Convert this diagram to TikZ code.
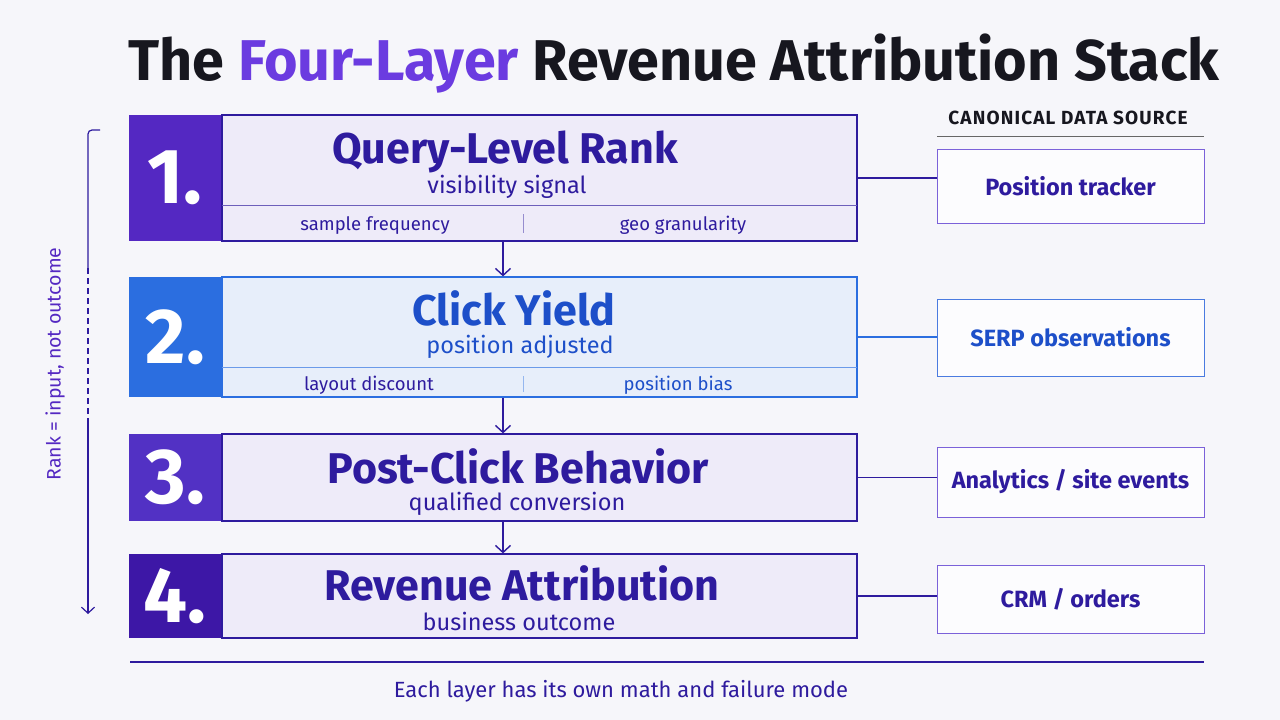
\documentclass[tikz,border=0pt]{standalone}
\usepackage{fontspec}
\setmainfont{Fira Sans}
\newfontfamily\spacedfont[LetterSpace=6]{Fira Sans}
\usetikzlibrary{arrows.meta,positioning}

\definecolor{bgcol}{HTML}{F6F6FA}
\definecolor{ink}{HTML}{2E1B9E}
\definecolor{titledark}{HTML}{17171F}
\definecolor{titlepurple}{HTML}{6B3BE0}
\definecolor{numone}{HTML}{5428C2}
\definecolor{numtwo}{HTML}{2B6EE0}
\definecolor{numthree}{HTML}{5231C4}
\definecolor{numfour}{HTML}{3D17A6}
\definecolor{layerfill}{HTML}{EEEBF9}
\definecolor{bluefill}{HTML}{E7EEFA}
\definecolor{blueink}{HTML}{1D4FC9}
\definecolor{srcedge}{HTML}{7B61D9}
\definecolor{srcblue}{HTML}{4A7BE0}

\tikzset{
  layer/.style={draw=ink, line width=1.2pt, fill=layerfill, minimum width=635, inner sep=0pt},
  numblk/.style={minimum width=92, inner sep=0pt, text=white,
    font=\fontsize{78}{80}\selectfont\bfseries},
  ltitle/.style={anchor=base, text=ink, font=\fontsize{43}{45}\selectfont\bfseries},
  lsub/.style={anchor=base, text=ink, font=\fontsize{23.5}{25}\selectfont},
  lnote/.style={anchor=base, text=ink, font=\fontsize{18.5}{20}\selectfont},
  srcbox/.style={draw=srcedge, line width=1pt, fill=white!70!bgcol, minimum width=267,
    text=ink, font=\fontsize{23.5}{25}\selectfont\bfseries},
  flow/.style={draw=ink, line width=1.4pt, -{Straight Barb[length=7pt,width=15pt]}},
  link/.style={draw=ink, line width=1.2pt}
}

\begin{document}
\begin{tikzpicture}[x=1pt,y=-1pt]
  \fill[bgcol] (0,0) rectangle (1280,720);
  \useasboundingbox (0,0) rectangle (1280,720);

  % title
  \node[anchor=base, font=\fontsize{57.5}{60}\selectfont\bfseries, text=titledark] (title) at (674,80)
    {The \textcolor{titlepurple}{Four-Layer} Revenue Attribution Stack};

  % the four layers
  \node[layer, minimum height=126] (L1) at (539.5,178) {};
  \node[layer, minimum height=120, fill=bluefill, draw=numtwo] (L2) at (539.5,337) {};
  \node[layer, minimum height=87] (L3) at (539.5,477.5) {};
  \node[layer, minimum height=84] (L4) at (539.5,596) {};

  \node[numblk, fill=numone, minimum height=126, anchor=east] (N1) at (L1.west) {1.};
  \node[numblk, fill=numtwo, minimum height=120, anchor=east] (N2) at (L2.west) {2.};
  \node[numblk, fill=numthree, minimum height=87, anchor=east] (N3) at (L3.west) {3.};
  \node[numblk, fill=numfour, minimum height=84, anchor=east] (N4) at (L4.west) {4.};

  \node[ltitle] (T1) at (505,163) {Query-Level Rank};
  \node[lsub] (S1) at (507,193) {visibility signal};
  \node[ltitle, text=blueink] (T2) at (514,325) {Click Yield};
  \node[lsub, text=blueink] (S2) at (520,353) {position adjusted};
  \node[ltitle] (T3) at (518,483) {Post-Click Behavior};
  \node[lsub] (S3) at (517,510) {qualified conversion};
  \node[ltitle] (T4) at (522,600) {Revenue Attribution};
  \node[lsub] (S4) at (519,630) {business outcome};

  % detail rows
  \draw[ink!70, line width=0.8pt] (222,205) -- (857,205);
  \draw[ink!50, line width=0.6pt] (523,214) -- (523,233);
  \node[lnote] (D1a) at (375,230) {sample frequency};
  \node[lnote] (D1b) at (683,230) {geo granularity};
  \draw[numtwo!70, line width=0.8pt] (222,367) -- (857,367);
  \draw[numtwo!50, line width=0.6pt] (523,376) -- (523,392);
  \node[lnote] (D2a) at (369,390) {layout discount};
  \node[lnote, text=blueink] (D2b) at (678,390) {position bias};

  % flow arrows
  \coordinate (axis) at (503,0);
  \draw[flow] (L1.south -| axis) -- (L2.north -| axis);
  \draw[flow] (L2.south -| axis) -- (L3.north -| axis);
  \draw[flow] (L3.south -| axis) -- (L4.north -| axis);

  % data sources
  \node[anchor=base, text=titledark, font=\fontsize{19}{21}\selectfont\spacedfont\bfseries] (head) at (1068,124)
    {CANONICAL DATA SOURCE};
  \draw[gray!80!black, line width=0.8pt] (937,136) -- (1204,136);
  \node[srcbox, minimum height=74] (R1) at (1070.5,186) {Position tracker};
  \node[srcbox, minimum height=77, draw=srcblue, text=blueink] (R2) at (1070.5,337.5) {SERP observations};
  \node[srcbox, minimum height=70] (R3) at (1070.5,482) {Analytics / site events};
  \node[srcbox, minimum height=68] (R4) at (1070.5,599) {CRM / orders};

  \draw[link] (L1.east) -- (L1.east -| R1.west);
  \draw[link, draw=numtwo] (L2.east) -- (L2.east -| R2.west);
  \draw[link] (L3.east) -- (L3.east -| R3.west);
  \draw[link] (L4.east) -- (L4.east -| R4.west);

  % rank bracket
  \coordinate (btop) at (100,130);
  \coordinate (dashA) at (88,268);
  \coordinate (dashB) at (88,420);
  \coordinate (bend) at (88,614);
  \draw[link, rounded corners=4pt] (btop) -- (88,130) -- (dashA);
  \draw[link, dash pattern=on 6pt off 4pt] (dashA) -- (dashB);
  \draw[flow, line width=1.2pt, -{Straight Barb[length=6pt,width=13pt]}] (dashB) -- (bend);
  \node[rotate=90, text=numone, font=\fontsize{19.5}{21}\selectfont] (rank) at (55,364)
    {Rank = input, not outcome};

  % footer
  \draw[link] (130,662) -- (1204,662);
  \node[anchor=base, text=ink, font=\fontsize{22}{24}\selectfont] (foot) at (621,697)
    {Each layer has its own math and failure mode};
\end{tikzpicture}
\end{document}
